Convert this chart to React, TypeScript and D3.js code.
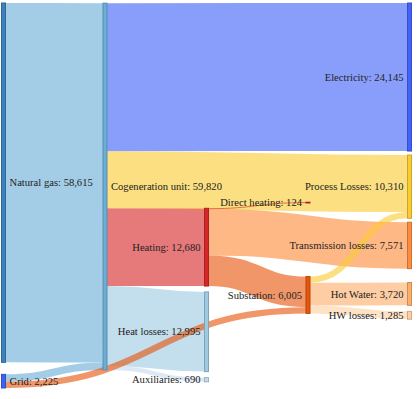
import { useMemo } from "react";
import * as d3 from "d3";

// Nodes (listed top to bottom within each column)
const nodeNames = [
  "Natural gas",
  "Grid",
  "Cogeneration unit",
  "Heating",
  "Heat losses",
  "Auxiliaries",
  "Direct heating",
  "Substation",
  "Electricity",
  "Process Losses",
  "Transmission losses",
  "Hot Water",
  "HW losses",
];
const nodeColumns = [0, 0, 1, 2, 2, 2, 3, 3, 4, 4, 4, 4, 4];
const nodeColors = [
  "#3b82bd",
  "#4062f0",
  "#6baed6",
  "#d62728",
  "#9ecae1",
  "#c6dbef",
  "#d62728",
  "#e6550d",
  "#4062f8",
  "#f9cc33",
  "#fd8d3c",
  "#fdae6b",
  "#fdd0a2",
];

// Links (drawing order)
const linkSources = [
  "Natural gas",
  "Grid",
  "Cogeneration unit",
  "Cogeneration unit",
  "Cogeneration unit",
  "Cogeneration unit",
  "Cogeneration unit",
  "Heating",
  "Heating",
  "Heating",
  "Substation",
  "Substation",
  "Substation",
  "Grid",
];
const linkTargets = [
  "Cogeneration unit",
  "Cogeneration unit",
  "Electricity",
  "Heating",
  "Process Losses",
  "Heat losses",
  "Auxiliaries",
  "Direct heating",
  "Transmission losses",
  "Substation",
  "Process Losses",
  "Hot Water",
  "HW losses",
  "Substation",
];
const linkValues = [58615, 1205, 24145, 12680, 9310, 12995, 690, 124, 7571, 4985, 1000, 3720, 1285, 1020];

const width = 417;
const height = 399;
const nodeWidth = 4;
const nodePadding = 4;
const slotPadding = 6;
const columnGap = 12;
const iterations = 6;
const extent = { x0: 1.5, x1: 411.5, y0: 3, y1: 388 };
const format = d3.format(",.0f");

type SNode = {
  name: string;
  index: number;
  column: number;
  color: string;
  value: number;
  x0: number;
  x1: number;
  y0: number;
  y1: number;
  sourceLinks: SLink[];
  targetLinks: SLink[];
};
type SLink = {
  index: number;
  source: SNode;
  target: SNode;
  value: number;
  width: number;
  y0: number;
  y1: number;
};

const byY = (a: SNode, b: SNode) => a.y0 - b.y0;
const bySource = (a: SLink, b: SLink) => byY(a.source, b.source) || a.index - b.index;
const byTarget = (a: SLink, b: SLink) => byY(a.target, b.target) || a.index - b.index;

function buildSankey() {
  const nodes: SNode[] = nodeNames.map((name, index) => ({
    name,
    index,
    column: nodeColumns[index],
    color: nodeColors[index],
    value: 0,
    x0: 0,
    x1: 0,
    y0: 0,
    y1: 0,
    sourceLinks: [],
    targetLinks: [],
  }));
  const byName = new Map(nodes.map((n) => [n.name, n]));
  const links: SLink[] = linkValues.map((value, index) => {
    const source = byName.get(linkSources[index])!;
    const target = byName.get(linkTargets[index])!;
    const link = { index, source, target, value, width: 0, y0: 0, y1: 0 };
    source.sourceLinks.push(link);
    target.targetLinks.push(link);
    return link;
  });
  nodes.forEach((n) => {
    n.value = Math.max(d3.sum(n.sourceLinks, (l) => l.value), d3.sum(n.targetLinks, (l) => l.value));
  });

  const nCols = d3.max(nodes, (n) => n.column)! + 1;
  const columns = d3.range(nCols).map((c) => nodes.filter((n) => n.column === c));
  const x = d3.scaleLinear().domain([0, nCols - 1]).range([extent.x0, extent.x1 - nodeWidth]);
  nodes.forEach((n) => {
    n.x0 = x(n.column);
    n.x1 = n.x0 + nodeWidth;
  });

  const span = extent.y1 - extent.y0;
  const maxTotal = d3.max(columns, (c) => d3.sum(c, (n) => n.value))!;
  const ky = d3.scaleLinear().domain([0, maxTotal]).range([0, span - columnGap]);
  // the column that sets the scale is spread over the full height
  const pads = columns.map((col) =>
    ky(d3.sum(col, (n) => n.value)) + (col.length - 1) * columnGap >= span - 1e-6 ? columnGap : nodePadding
  );
  const py = slotPadding;

  const reorderLinks = (col: SNode[]) => {
    col.forEach((n) => {
      n.sourceLinks.sort(byTarget);
      n.targetLinks.sort(bySource);
    });
  };
  const reorderNodeLinks = (n: SNode) => {
    n.targetLinks.forEach((l) => l.source.sourceLinks.sort(byTarget));
    n.sourceLinks.forEach((l) => l.target.targetLinks.sort(bySource));
  };

  // initial stacking, spare room spread evenly
  columns.forEach((col, c) => {
    const p = pads[c];
    let y = extent.y0;
    col.forEach((n) => {
      n.y0 = y;
      n.y1 = y + ky(n.value);
      y = n.y1 + p;
      n.sourceLinks.forEach((l) => (l.width = ky(l.value)));
    });
    const step = (extent.y1 - y + p) / (col.length + 1);
    col.forEach((n, i) => {
      n.y0 += step * (i + 1);
      n.y1 += step * (i + 1);
    });
    reorderLinks(col);
  });

  const targetTop = (source: SNode, target: SNode) => {
    let y = source.y0 - ((source.sourceLinks.length - 1) * py) / 2;
    for (const l of source.sourceLinks) {
      if (l.target === target) break;
      y += l.width + py;
    }
    for (const l of target.targetLinks) {
      if (l.source === source) break;
      y -= l.width;
    }
    return y;
  };
  const sourceTop = (source: SNode, target: SNode) => {
    let y = target.y0 - ((target.targetLinks.length - 1) * py) / 2;
    for (const l of target.targetLinks) {
      if (l.source === source) break;
      y += l.width + py;
    }
    for (const l of source.sourceLinks) {
      if (l.target === target) break;
      y -= l.width;
    }
    return y;
  };

  const downFrom = (col: SNode[], y: number, i: number, alpha: number, p: number) => {
    for (; i < col.length; ++i) {
      const n = col[i];
      const dy = (y - n.y0) * alpha;
      if (dy > 1e-6) {
        n.y0 += dy;
        n.y1 += dy;
      }
      y = n.y1 + p;
    }
  };
  const upFrom = (col: SNode[], y: number, i: number, alpha: number, p: number) => {
    for (; i >= 0; --i) {
      const n = col[i];
      const dy = (n.y1 - y) * alpha;
      if (dy > 1e-6) {
        n.y0 -= dy;
        n.y1 -= dy;
      }
      y = n.y0 - p;
    }
  };
  // node order within a column is kept as listed
  const resolveCollisions = (c: number, alpha: number) => {
    const col = columns[c];
    const p = pads[c];
    const i = col.length >> 1;
    const mid = col[i];
    upFrom(col, mid.y0 - p, i - 1, alpha, p);
    downFrom(col, mid.y1 + p, i + 1, alpha, p);
    upFrom(col, extent.y1, col.length - 1, alpha, p);
    downFrom(col, extent.y0, 0, alpha, p);
  };

  for (let it = 0; it < iterations; ++it) {
    const alpha = Math.pow(0.99, it);
    const beta = Math.max(1 - alpha, (it + 1) / iterations);
    // right to left
    for (let c = nCols - 2; c >= 0; --c) {
      columns[c].forEach((source) => {
        let y = 0;
        let w = 0;
        source.sourceLinks.forEach((l) => {
          y += sourceTop(source, l.target) * l.value;
          w += l.value;
        });
        if (!(w > 0)) return;
        const dy = (y / w - source.y0) * alpha;
        source.y0 += dy;
        source.y1 += dy;
        reorderNodeLinks(source);
      });
      resolveCollisions(c, beta);
    }
    // left to right
    for (let c = 1; c < nCols; ++c) {
      columns[c].forEach((target) => {
        let y = 0;
        let w = 0;
        target.targetLinks.forEach((l) => {
          y += targetTop(l.source, target) * l.value;
          w += l.value;
        });
        if (!(w > 0)) return;
        const dy = (y / w - target.y0) * alpha;
        target.y0 += dy;
        target.y1 += dy;
        reorderNodeLinks(target);
      });
      resolveCollisions(c, beta);
    }
  }

  // link breadths
  nodes.forEach((n) => {
    n.sourceLinks.sort(byTarget);
    n.targetLinks.sort(bySource);
    let y0 = n.y0;
    n.sourceLinks.forEach((l) => {
      l.y0 = y0 + l.width / 2;
      y0 += l.width;
    });
    let y1 = n.y0;
    n.targetLinks.forEach((l) => {
      l.y1 = y1 + l.width / 2;
      y1 += l.width;
    });
  });

  return { nodes, links };
}

export default function App() {
  const { nodes, links } = useMemo(buildSankey, []);
  const linkPath = d3.linkHorizontal();

  return (
    <div style={{ position: "absolute", left: 0, top: 0 }}>
      <svg width={width} height={height} style={{ display: "block" }}>
        <g fill="none">
          {links.map((l) => (
            <path
              key={l.index}
              d={linkPath({ source: [l.source.x1, l.y0], target: [l.target.x0, l.y1] }) || ""}
              stroke={l.target.color}
              strokeOpacity={0.62}
              strokeWidth={Math.max(1, l.width)}
            />
          ))}
        </g>
        <g>
          {nodes.map((n) => (
            <rect
              key={n.name}
              x={n.x0}
              y={n.y0}
              width={n.x1 - n.x0}
              height={Math.max(0.5, n.y1 - n.y0)}
              fill={n.color}
              stroke={d3.rgb(n.color).darker(0.6).formatHex()}
              strokeWidth={1}
            />
          ))}
        </g>
        <g fontFamily="'Liberation Serif', 'Times New Roman', serif" fontSize={10.6} fill="#222">
          {nodes.map((n) => {
            const right = n.column < 2;
            return (
              <text
                key={n.name}
                x={right ? n.x1 + 4 : n.x0 - 4}
                y={(n.y0 + n.y1) / 2}
                dy="0.35em"
                textAnchor={right ? "start" : "end"}
              >
                {`${n.name}: ${format(n.value)}`}
              </text>
            );
          })}
        </g>
      </svg>
    </div>
  );
}
